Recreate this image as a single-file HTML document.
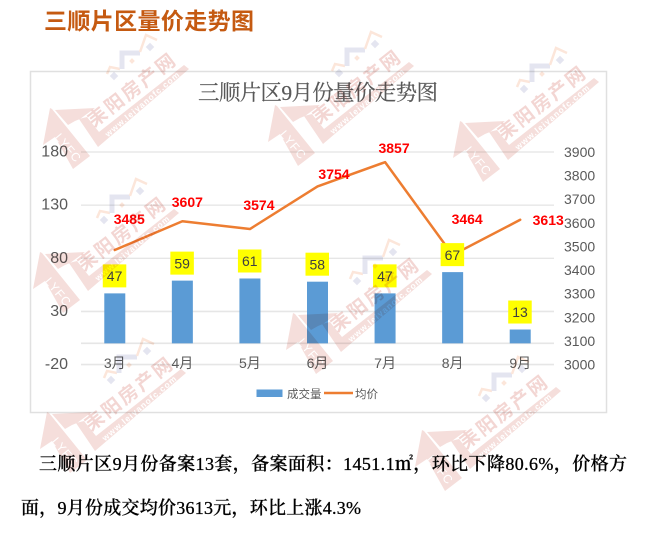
<!DOCTYPE html>
<html lang="zh">
<head>
<meta charset="utf-8">
<title>三顺片区量价走势图</title>
<style>
  html, body { margin: 0; padding: 0; background: #fff; }
  #stage { position: relative; width: 650px; height: 547px; overflow: hidden; }
  svg { position: absolute; left: 0; top: 0; display: block; }
  text { font-family: "Liberation Sans", "Noto Sans CJK SC", sans-serif; }
  .serif { font-family: "Liberation Serif", "Noto Serif CJK SC", serif; }
</style>
</head>
<body>
<div id="stage">
  <svg id="chart" width="650" height="547" viewBox="0 0 650 547" xmlns="http://www.w3.org/2000/svg">
    <rect x="0" y="0" width="650" height="547" fill="#ffffff"></rect>
    <text x="44" y="29" font-size="23" font-weight="700" fill="#c55a11" textLength="210">三顺片区量价走势图</text>
    <rect x="30.5" y="71.5" width="576" height="341" fill="#ffffff" stroke="#e0e0e0" stroke-width="1.5"></rect>
    <text class="serif" x="198" y="100" font-size="21.5" fill="#595959" stroke="#595959" stroke-width="0.2" textLength="240">三顺片区9月份量价走势图</text>
    <g id="grid"></g>
    <g id="bars"></g>
    <g id="line"></g>
    <g id="barLabels"></g>
    <g id="priceLabels"></g>
    <g id="axes"></g>
    <g>
      <rect x="256.5" y="389.5" width="26" height="7.5" fill="#5b9bd5"></rect>
      <text x="287" y="398" font-size="11.5" fill="#595959">成交量</text>
      <line x1="324" y1="393" x2="353" y2="393" stroke="#ed7d31" stroke-width="2.5"></line>
      <text x="355" y="398" font-size="11.5" fill="#595959">均价</text>
    </g>
    <text class="serif" x="39" y="470" font-size="18" font-weight="500" fill="#000000" stroke="#000000" stroke-width="0.3" textLength="588">三顺片区9月份备案13套，备案面积：1451.1㎡，环比下降80.6%，价格方</text>
    <text class="serif" x="21" y="514" font-size="18" font-weight="500" fill="#000000" stroke="#000000" stroke-width="0.3" textLength="340">面，9月份成交均价3613元，环比上涨4.3%</text>
    <g id="watermarks" style="mix-blend-mode:multiply"></g>
  </svg>
</div>
<script>
const categories = ['3月', '4月', '5月', '6月', '7月', '8月', '9月'];
const volumeValues = [47, 59, 61, 58, 47, 67, 13];
const priceValues = [3485, 3607, 3574, 3754, 3857, 3464, 3613];
const leftTicks = [180, 130, 80, 30, -20];
const rightTicks = [3900, 3800, 3700, 3600, 3500, 3400, 3300, 3200, 3100, 3000];

const NS = 'http://www.w3.org/2000/svg';
const plot = { left: 81, right: 554, top: 152, bottom: 364.6 };
const leftDomain = [-20, 180];
const rightDomain = [3000, 3900];
const band = (plot.right - plot.left) / categories.length;
const priceLabelShift = [[14.5, -31], [5, -19], [9, -24], [16.5, -12.5], [9, -14], [14.5, -36], [28, 0]];

function xBand(i) { return plot.left + band * (i + 0.5); }
function yLeft(v) { return plot.bottom - (v - leftDomain[0]) / (leftDomain[1] - leftDomain[0]) * (plot.bottom - plot.top); }
function yRight(v) { return plot.bottom - (v - rightDomain[0]) / (rightDomain[1] - rightDomain[0]) * (plot.bottom - plot.top); }
function make(tag, attrs, parent, content) {
  const el = document.createElementNS(NS, tag);
  for (const k in attrs) el.setAttribute(k, attrs[k]);
  if (content !== undefined) el.textContent = content;
  parent.appendChild(el);
  return el;
}

const gridG = document.getElementById('grid');
const axesG = document.getElementById('axes');
const barsG = document.getElementById('bars');
const lineG = document.getElementById('line');
const barLabelG = document.getElementById('barLabels');
const priceLabelG = document.getElementById('priceLabels');

leftTicks.forEach(function (t) {
  const y = yLeft(t);
  const thick = t <= 30;
  const g = make('line', { x1: plot.left, x2: plot.right, y1: y, y2: y, stroke: thick ? '#e6e6e6' : '#dedede', 'stroke-width': thick ? 1.6 : 1 }, gridG);
  
  
  const l = make('text', { x: 68, y: y, 'text-anchor': 'end', 'dominant-baseline': 'central', 'font-size': 16, fill: '#595959' }, axesG, String(t));
  
  
});

const baseline = make('line', { x1: plot.left, x2: plot.right, y1: yLeft(0), y2: yLeft(0), stroke: '#e6e6e6', 'stroke-width': 1.6 }, gridG);



rightTicks.forEach(function (t) {
  const l = make('text', { x: 564, y: yRight(t), 'dominant-baseline': 'central', 'font-size': 14, fill: '#595959' }, axesG, String(t));
  
  
});

categories.forEach(function (c, i) {
  const l = make('text', { x: xBand(i), y: 363, 'text-anchor': 'middle', 'dominant-baseline': 'central', 'font-size': 14, fill: '#595959' }, axesG, c);
  
  
});

volumeValues.forEach(function (v, i) {
  const top = yLeft(v);
  const b = make('rect', { x: xBand(i) - 10.5, y: top, width: 21, height: yLeft(0) - top, fill: '#5b9bd5' }, barsG);
  
  
});

const points = priceValues.map(function (v, i) { return xBand(i) + ',' + yRight(v); }).join(' ');
const priceLine = make('polyline', { points: points, fill: 'none', stroke: '#ed7d31', 'stroke-width': 2.5, 'stroke-linecap': 'round', 'stroke-linejoin': 'round' }, lineG);



volumeValues.forEach(function (v, i) {
  const top = yLeft(v);
  const box = make('rect', { x: xBand(i) - 12, y: top - 29, width: 23.5, height: 23, fill: '#ffff00' }, barLabelG);
  
  
  const t = make('text', { x: xBand(i) - 0.2, y: top - 17.3, 'text-anchor': 'middle', 'dominant-baseline': 'central', 'font-size': 14, fill: '#404040' }, barLabelG, String(v));
  
  
});

priceValues.forEach(function (v, i) {
  const shift = priceLabelShift[i];
  const t = make('text', { x: xBand(i) + shift[0], y: yRight(v) + shift[1], 'text-anchor': 'middle', 'dominant-baseline': 'central', 'font-size': 14, 'font-weight': 700, fill: '#ff0000' }, priceLabelG, String(v));
  
  
});

const wmAnchors = [[50, 108], [275, 105], [460, 121], [40, 252], [293, 313], [47, 412], [422, 430]];
const wmLayer = document.getElementById('watermarks');
const wmPink = '#f5dedb';
const wmPeach = '#fce6da';
const wmLavender = '#e4e5f0';
wmAnchors.forEach(function (a) {
  const g = make('g', { transform: 'translate(' + a[0] + ',' + a[1] + ')' }, wmLayer);
  
  
  make('polygon', { points: '0,0 -7,37 5,29 23,61 40,48 2,1', fill: wmPink }, g);
  make('polygon', { points: '5,2 45,0 30,11 25,13 18,17', fill: wmPink }, g);
  make('polygon', { points: '29,11 37,9 49,24 134,-43 139,-39 48,39', fill: wmPink }, g);
  make('polyline', { points: '57,-34 60,-41 70,-39', fill: 'none', stroke: wmPeach, 'stroke-width': 2.5 }, g);
  make('polyline', { points: '72,-39 72,-55 90,-55', fill: 'none', stroke: wmLavender, 'stroke-width': 5 }, g);
  make('polyline', { points: '90,-56 96,-73 107,-68', fill: 'none', stroke: wmPeach, 'stroke-width': 2.5 }, g);
  make('rect', { x: 61, y: -35, width: 6, height: 6, fill: wmLavender, transform: 'rotate(45 64 -32)' }, g);
  make('rect', { x: 97, y: -64, width: 6, height: 6, fill: wmLavender, transform: 'rotate(45 100 -61)' }, g);
  make('rect', { x: 80, y: -49, width: 4, height: 4, fill: wmPeach, transform: 'rotate(45 82 -47)' }, g);
  make('text', { x: 0, y: 0, transform: 'translate(83,-17.5) rotate(-38)', 'text-anchor': 'middle', 'dominant-baseline': 'central', 'font-size': 19, 'font-weight': 700, 'letter-spacing': '2.5', fill: '#f3d6d3' }, g, '耒阳房产网');
  make('text', { x: 0, y: 0, transform: 'translate(92.5,-4) rotate(-40.5)', 'text-anchor': 'middle', 'dominant-baseline': 'central', 'font-size': 8.5, 'font-weight': 700, 'letter-spacing': '1', fill: '#ffffff' }, g, 'www.leiyanofc.com');
  make('text', { x: 0, y: 0, transform: 'translate(18,40) rotate(50)', 'text-anchor': 'middle', 'dominant-baseline': 'central', 'font-size': 12, 'letter-spacing': '1', fill: '#ffffff' }, g, 'LYFC');
});
</script>
</body>
</html>
